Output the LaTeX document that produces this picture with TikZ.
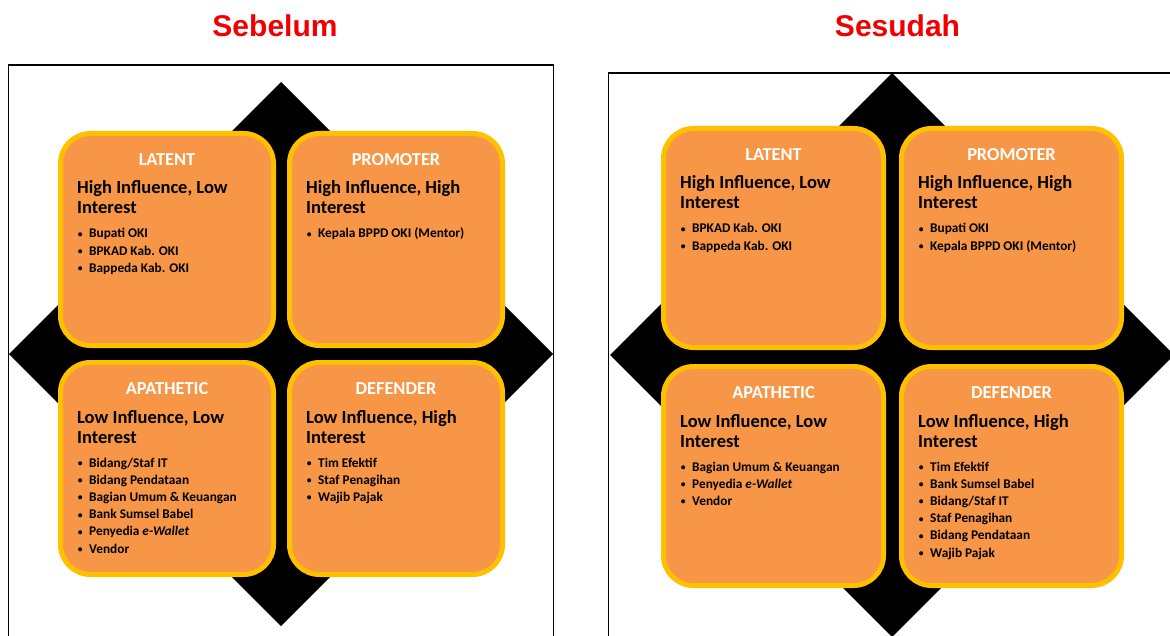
\documentclass[tikz,border=0pt]{standalone}
\usepackage{graphicx}
\usepackage{fontspec}
\setmainfont{Carlito}
\newfontfamily\titlefont{Liberation Sans}
\definecolor{quadfill}{HTML}{F79646}
\definecolor{quadedge}{HTML}{FFC000}
\definecolor{titlered}{HTML}{F00000}

\tikzset{
  quadrant/.style={rectangle, draw=quadedge, fill=quadfill, line width=5pt,
    rounded corners=30pt, inner sep=0pt},
  quadhead/.style={anchor=base, inner sep=0pt, text=white,
    font=\bfseries\fontsize{18.3}{20}\selectfont},
  quadsub/.style={anchor=base west, inner sep=0pt,
    font=\bfseries\fontsize{18.5}{20}\selectfont},
  quaditem/.style={anchor=base west, inner sep=0pt,
    font=\bfseries\fontsize{13.3}{16}\selectfont},
  panelframe/.style={draw=black, line width=1.5pt},
  backdiamond/.style={fill=black},
  paneltitle/.style={anchor=base, inner sep=0pt, text=titlered,
    font=\titlefont\bfseries\fontsize{30}{30}\selectfont},
}

% small list bullet
\newcommand\itemdot{\makebox[0pt][c]{\raisebox{0.6pt}{\scalebox{0.72}{\textbullet}}}}

% #1 name, #2 left, #3 top, #4 width, #5 height, #6 header, #7 first line, #8 items
\newcommand\stakebox[8]{%
  \node[quadrant, minimum width=#4pt-5pt, minimum height=#5pt-5pt] (#1) at (#2+#4/2, #3+#5/2) {};
  \node[quadhead] (#1-head) at (#2+#4/2, #3+34.5) {#6};
  \node[quadsub] (#1-sub1) at (#2+19, #3+63) {#7};
  \node[quadsub] (#1-sub2) at (#2+19, #3+83) {Interest};
  \foreach \t [count=\i] in {#8} {
    \node[quaditem] (#1-item\i) at (#2+22, #3+107+17.2*\i-17.2)
      {\itemdot\hspace{9pt}\t};
  }%
}

\begin{document}
\begin{tikzpicture}[x=1pt, y=-1pt]
  \useasboundingbox (0,0) rectangle (1170,636);
  \clip (0,0) rectangle (1170,636);

  % panel titles
  \node[paneltitle] (before) at (275,36.5) {Sebelum};
  \node[paneltitle] (after) at (897.5,36.5) {Sesudah};

  % left panel: frame and black diamond
  \draw[panelframe] (8.5,700) -- (8.5,65) -- (553.5,65) -- (553.5,700);
  \fill[backdiamond] (281,82) -- (553,354) -- (281,626) -- (9,354) -- cycle;

  \stakebox{bl}{58}{131}{218}{217}{LATENT}{High Influence, Low}
    {Bupati OKI, BPKAD Kab. OKI, Bappeda Kab. OKI}
  \stakebox{bp}{287}{131}{218}{217}{PROMOTER}{High Influence, High}
    {Kepala BPPD OKI (Mentor)}
  \stakebox{ba}{58}{360}{218}{217}{APATHETIC}{Low Influence, Low}
    {Bidang/Staf IT, Bidang Pendataan, Bagian Umum \& Keuangan,
     Bank Sumsel Babel, Penyedia \textit{e-Wallet}, Vendor}
  \stakebox{bd}{287}{360}{218}{217}{DEFENDER}{Low Influence, High}
    {Tim Efektif, Staf Penagihan, Wajib Pajak}

  % right panel: frame and black diamond
  \draw[panelframe] (608.5,700) -- (608.5,73) -- (1200,73);
  \fill[backdiamond] (892,73) -- (1174,355) -- (892,637) -- (610,355) -- cycle;

  \stakebox{al}{661}{126}{225}{224}{LATENT}{High Influence, Low}
    {BPKAD Kab. OKI, Bappeda Kab. OKI}
  \stakebox{ap}{899}{126}{225}{224}{PROMOTER}{High Influence, High}
    {Bupati OKI, Kepala BPPD OKI (Mentor)}
  \stakebox{aa}{661}{364}{225}{224}{APATHETIC}{Low Influence, Low}
    {Bagian Umum \& Keuangan, Penyedia \textit{e-Wallet}, Vendor}
  \stakebox{ad}{899}{364}{225}{224}{DEFENDER}{Low Influence, High}
    {Tim Efektif, Bank Sumsel Babel, Bidang/Staf IT, Staf Penagihan,
     Bidang Pendataan, Wajib Pajak}
\end{tikzpicture}
\end{document}
